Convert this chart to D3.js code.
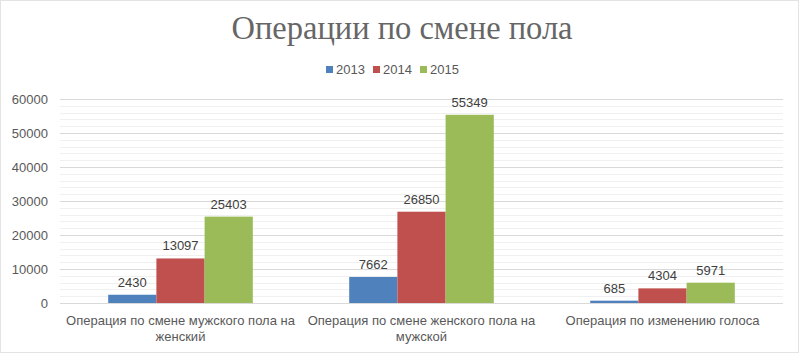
<!DOCTYPE html>
<html>
<head>
<meta charset="utf-8">
<script src="https://cdn.jsdelivr.net/npm/d3@7"></script>
<style>
  body { margin: 0; background: #fff; }
  svg text { font-family: "Liberation Sans", Arial, sans-serif; }
</style>
</head>
<body>
<div class="visHolder"></div>
<script>
const w = 799;
const h = 353;

const categories = [
  ['Операция по смене мужского пола на', 'женский'],
  ['Операция по смене женского пола на', 'мужской'],
  ['Операция по изменению голоса']
];
const years = ['2013', '2014', '2015'];
const colors = ['#4F81BD', '#C0504D', '#9BBB59'];
const values2013 = [2430, 7662, 685];
const values2014 = [13097, 26850, 4304];
const values2015 = [25403, 55349, 5971];
const yTicks = [0, 10000, 20000, 30000, 40000, 50000, 60000];

const series = [values2013, values2014, values2015];

const margin = { top: 99, left: 60, right: 16, bottom: 50 };

var svg = d3
  .select('.visHolder')
  .append('svg')
  .attr('width', w)
  .attr('height', h);

svg.append('rect')
  .attr('x', 0.5).attr('y', 0.5)
  .attr('width', w - 1).attr('height', h - 1)
  .style('fill', '#fff')
  .style('stroke', '#e3e3e3');

// title
svg.append('text')
  .attr('x', 402)
  .attr('y', 39)
  .attr('text-anchor', 'middle')
  .style('font-family', '"Liberation Serif", "DejaVu Serif", serif')
  .style('font-size', '33px')
  .style('fill', '#666666')
  .attr('textLength', 341)
  .attr('lengthAdjust', 'spacingAndGlyphs')
  .text('Операции по смене пола');

const xScale = d3.scaleBand()
  .domain(d3.range(categories.length))
  .range([margin.left, w - margin.right]);

const yScale = d3.scaleLinear()
  .domain([0, 60000])
  .range([h - margin.bottom, margin.top]);

// minor gridlines
svg.append('g')
  .selectAll('line')
  .data(d3.range(2000, 60000, 2000).filter(v => v % 10000 !== 0))
  .enter()
  .append('line')
  .attr('x1', margin.left)
  .attr('x2', w - margin.right)
  .attr('y1', d => Math.round(yScale(d)) + 0.5)
  .attr('y2', d => Math.round(yScale(d)) + 0.5)
  .style('stroke', '#f0f0f0');

// y axis with major gridlines
const yAxis = d3.axisLeft(yScale)
  .tickValues(yTicks)
  .tickFormat(d3.format('d'))
  .tickSize(-(w - margin.left - margin.right))
  .tickPadding(12);
const gy = svg.append('g')
  .attr('transform', 'translate(' + margin.left + ',0)')
  .call(yAxis);
gy.select('.domain').remove();
gy.selectAll('line').style('stroke', '#d9d9d9');
gy.selectAll('text')
  .style('font-size', '13px')
  .style('fill', '#595959');

// bars
const barW = xScale.bandwidth() / 5;
series.forEach(function (vals, s) {
  svg.append('g')
    .selectAll('rect')
    .data(vals)
    .enter()
    .append('rect')
    .attr('x', (d, i) => xScale(i) + barW * (1 + s))
    .attr('y', d => yScale(d))
    .attr('width', barW)
    .attr('height', d => yScale(0) - yScale(d))
    .style('fill', colors[s]);

  svg.append('g')
    .selectAll('text')
    .data(vals)
    .enter()
    .append('text')
    .attr('x', (d, i) => xScale(i) + barW * (1.5 + s))
    .attr('y', d => yScale(d) - 8)
    .attr('text-anchor', 'middle')
    .style('font-size', '13px')
    .style('fill', '#404040')
    .text(d => d);
});

// category labels
const catG = svg.append('g');
categories.forEach(function (lines, i) {
  const t = catG.append('text')
    .attr('x', xScale(i) + xScale.bandwidth() / 2)
    .attr('y', h - margin.bottom + 22)
    .attr('text-anchor', 'middle')
    .style('font-size', '13px')
    .style('fill', '#595959');
  lines.forEach(function (line, j) {
    t.append('tspan')
      .attr('x', xScale(i) + xScale.bandwidth() / 2)
      .attr('dy', j === 0 ? 0 : 16)
      .text(line);
  });
});

// legend
const legend = svg.append('g')
  .attr('id', 'legend')
  .attr('transform', 'translate(326,63)');
years.forEach(function (y, i) {
  legend.append('rect')
    .attr('x', i * 47)
    .attr('y', 3)
    .attr('width', 7)
    .attr('height', 7)
    .style('fill', colors[i]);
  legend.append('text')
    .attr('x', i * 47 + 10)
    .attr('y', 11)
    .style('font-size', '13px')
    .style('fill', '#595959')
    .text(y);
});
</script>
</body>
</html>
